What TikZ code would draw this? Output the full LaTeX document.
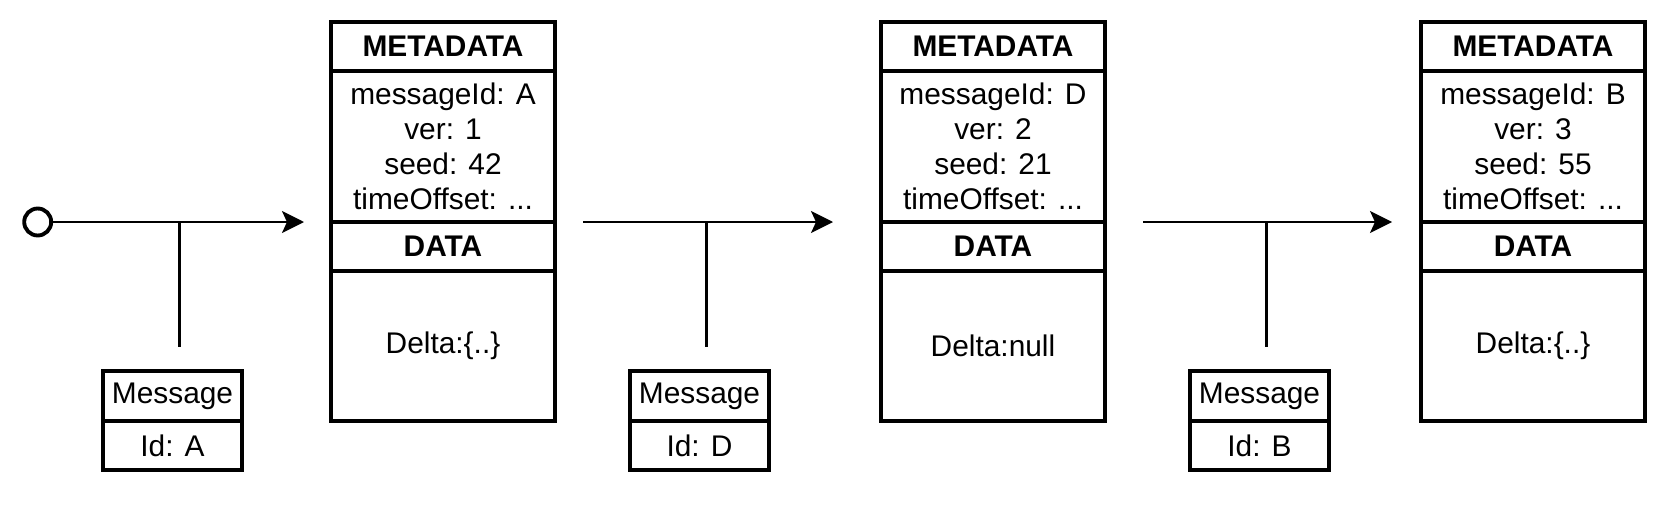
\documentclass[tikz,border=0pt]{standalone}
\usepackage{fontspec}
\setmainfont{Liberation Sans}
\usetikzlibrary{
	arrows.meta,
	positioning,
	calc
}

\begin{document}
\begin{tikzpicture}[
			font=\fontsize{8.5}{10}\selectfont,
			box/.style={draw, line width=1.1pt, inner sep=0pt, outer sep=0pt, align=center},
			head/.style={box, minimum width=2.24cm, minimum height=0.49cm, font=\fontsize{8.5}{10}\selectfont\bfseries},
			body/.style={box, minimum width=2.24cm},
			msgbox/.style={box, minimum width=1.39cm},
			start/.style={draw, circle, line width=1.1pt, minimum size=0.27cm, inner sep=0pt},
			>={Stealth[length=0.22cm, width=0.22cm, inset=0.05cm]},
			flow/.style={->, line width=0.6pt},
			tee/.style={line width=0.6pt}
		]
		\useasboundingbox (0,0) rectangle (16.71,-5.05);

		% versoes do estado
		\foreach \n/\x/\id/\v/\s/\d in {1/3.31/A/1/42/{\{..\}}, 2/8.81/D/2/21/null, 3/14.21/B/3/55/{\{..\}}} {
				\node[head, anchor=north west] (head\n) at (\x,-0.22) {METADATA};
				\node[body, minimum height=1.51cm, below=0pt of head\n] (meta\n) {messageId: \id\\ ver: \v\\ seed: \s\\ timeOffset: ...};
				\node[head, below=0pt of meta\n] (dhead\n) {DATA};
				\node[body, minimum height=1.50cm, below=0pt of dhead\n] (data\n) {Delta:\d};
			}

		% mensagens
		\foreach \n/\x/\id in {1/1.03/A, 2/6.30/D, 3/11.90/B} {
				\node[msgbox, minimum height=0.50cm, anchor=north west] (msg\n) at (\x,-3.71) {Message};
				\node[msgbox, minimum height=0.49cm, below=0pt of msg\n] (id\n) {Id: \id};
			}

		\node[start] (ini) at (0.377,-2.22) {};

		\draw[flow, shorten >=0.27cm] (ini) -- (meta1.south west);
		\draw[flow, shorten <=0.28cm, shorten >=0.48cm] (meta1.south east) -- (meta2.south west);
		\draw[flow, shorten <=0.38cm, shorten >=0.29cm] (meta2.south east) -- (meta3.south west);

		\foreach \n in {1,2,3} {
				\draw[tee] ($(msg\n.north |- ini)+(0.07,0)$) -- ($(msg\n.north)+(0.07,0.24)$);
			}
	\end{tikzpicture}
\end{document}
